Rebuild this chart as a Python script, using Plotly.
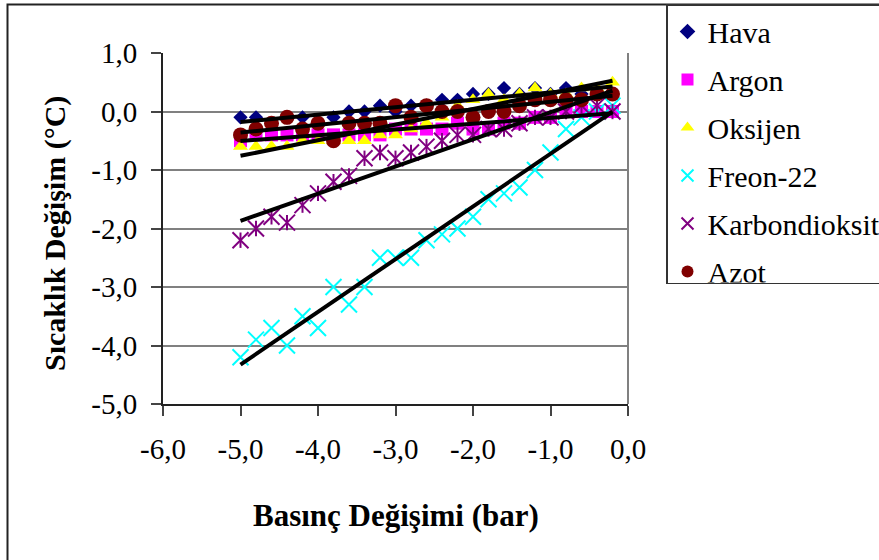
import numpy as np
import plotly.graph_objects as go

# ---- data ----
pressure = [-5.0, -4.8, -4.6, -4.4, -4.2, -4.0, -3.8, -3.6, -3.4, -3.2, -3.0, -2.8, -2.6,
            -2.4, -2.2, -2.0, -1.8, -1.6, -1.4, -1.2, -1.0, -0.8, -0.6, -0.4, -0.2]

hava = [-0.1, -0.1, -0.2, -0.1, -0.1, -0.2, -0.1, 0.0, 0.0, 0.1, 0.0, 0.1, 0.1,
        0.2, 0.2, 0.3, 0.3, 0.4, 0.3, 0.4, 0.3, 0.4, 0.3, 0.3, 0.3]
argon = [-0.5, -0.4, -0.4, -0.4, -0.4, -0.4, -0.4, -0.4, -0.4, -0.4, -0.3, -0.3, -0.3,
         -0.3, -0.2, -0.3, -0.3, -0.2, -0.2, -0.1, -0.1, 0.0, 0.0, 0.0, 0.0]
oksijen = [-0.6, -0.6, -0.6, -0.6, -0.5, -0.5, -0.5, -0.5, -0.5, -0.4, -0.4, -0.3, -0.2,
           -0.1, 0.1, 0.2, 0.3, 0.2, 0.3, 0.4, 0.3, 0.3, 0.4, 0.4, 0.5]
freon = [-4.2, -3.9, -3.7, -4.0, -3.5, -3.7, -3.0, -3.3, -3.0, -2.5, -2.5, -2.5, -2.2,
         -2.1, -2.0, -1.8, -1.5, -1.4, -1.3, -1.0, -0.7, -0.3, -0.1, 0.0, 0.1]
karbondioksit = [-2.2, -2.0, -1.8, -1.9, -1.6, -1.4, -1.2, -1.1, -0.8, -0.7, -0.8, -0.7, -0.6,
                 -0.5, -0.4, -0.4, -0.3, -0.3, -0.2, -0.1, -0.1, 0.0, 0.1, 0.1, 0.0]
azot = [-0.4, -0.3, -0.2, -0.1, -0.3, -0.2, -0.5, -0.2, -0.2, -0.2, 0.1, -0.1, 0.1,
        0.0, 0.0, -0.1, 0.0, 0.0, 0.1, 0.2, 0.2, 0.2, 0.2, 0.3, 0.3]

series_names = ["Hava", "Argon", "Oksijen", "Freon-22", "Karbondioksit", "Azot"]
series_values = [hava, argon, oksijen, freon, karbondioksit, azot]

x_tickvals = [-6, -5, -4, -3, -2, -1, 0]
x_ticktext = ["-6,0", "-5,0", "-4,0", "-3,0", "-2,0", "-1,0", "0,0"]
y_tickvals = [1, 0, -1, -2, -3, -4, -5]
y_ticktext = ["1,0", "0,0", "-1,0", "-2,0", "-3,0", "-4,0", "-5,0"]

# ---- styles ----
FONT = "Liberation Serif"
styles = {
    "Hava": dict(symbol="diamond", color="#000080", size=11),
    "Argon": dict(symbol="square", color="#FF00FF", size=13),
    "Oksijen": dict(symbol="triangle-up", color="#FFFF00", size=13),
    "Freon-22": dict(symbol="x-thin-open", color="#00FFFF", size=16),
    "Karbondioksit": dict(symbol="x-thin-open", color="#800080", size=16),
    "Azot": dict(symbol="circle", color="#800000", size=15),
}

fig = go.Figure()
for name, vals in zip(series_names, series_values):
    st = styles[name]
    marker = dict(symbol=st["symbol"], color=st["color"], size=st["size"])
    if st["symbol"].endswith("open"):
        marker["line"] = dict(color=st["color"], width=2)
    else:
        marker["line"] = dict(width=0)
    fig.add_trace(go.Scatter(x=pressure, y=vals, mode="markers", name=name,
                             legendgroup=name, marker=marker))
    if name == "Karbondioksit":
        fig.add_trace(go.Scatter(x=pressure, y=vals, mode="markers", showlegend=False,
                                 legendgroup=name, hoverinfo="skip",
                                 marker=dict(symbol="line-ns-open", size=11,
                                             color=st["color"],
                                             line=dict(color=st["color"], width=2))))

# linear trendlines, fitted from the data
xs = np.array(pressure)
for name, vals in zip(series_names, series_values):
    k, b = np.polyfit(xs, np.array(vals), 1)
    xe = np.array([xs.min(), xs.max()])
    fig.add_trace(go.Scatter(x=xe, y=k * xe + b, mode="lines", showlegend=False,
                             hoverinfo="skip", line=dict(color="black", width=4)))

L, R, T, B = 163, 251, 53, 156
W, H = 879, 560
pw, ph = W - L - R, H - T - B

def px_x(p):
    return (p - L) / pw

def px_y(p):
    return (H - B - p) / ph

fig.update_layout(
    width=W, height=H,
    margin=dict(l=L, r=R, t=T, b=B, autoexpand=False),
    paper_bgcolor="white", plot_bgcolor="white",
    font=dict(family=FONT, color="black", size=29),
    showlegend=True,
    legend=dict(
        x=px_x(666), y=px_y(4), xanchor="left", yanchor="top",
        bordercolor="#333333", borderwidth=1.5, bgcolor="white",
        font=dict(family=FONT, size=30, color="black"),
        traceorder="grouped", tracegroupgap=6,
        itemsizing="constant",
    ),
    xaxis=dict(
        range=[-6, 0], tickvals=x_tickvals, ticktext=x_ticktext,
        ticks="outside", ticklen=10, tickwidth=1.5, tickcolor="#444444",
        showline=True, linecolor="#222222", linewidth=2,
        showgrid=False, zeroline=False,
        tickfont=dict(family=FONT, size=29, color="black"),
        ticklabelstandoff=8,
    ),
    yaxis=dict(
        range=[-5, 1], tickvals=y_tickvals, ticktext=y_ticktext,
        ticks="outside", ticklen=10, tickwidth=1.5, tickcolor="#444444",
        showline=True, linecolor="#222222", linewidth=2,
        showgrid=True, gridcolor="#808080", gridwidth=1.5, zeroline=False,
        tickfont=dict(family=FONT, size=29, color="black"),
        ticklabelstandoff=8,
    ),
    shapes=[
        dict(type="line", xref="paper", yref="paper", x0=1, x1=1, y0=0, y1=1,
             line=dict(color="#808080", width=2), layer="below"),
        dict(type="rect", xref="paper", yref="paper",
             x0=px_x(7.5), x1=px_x(2000), y0=px_y(2000), y1=px_y(4.5),
             line=dict(color="#222222", width=2), fillcolor="rgba(0,0,0,0)"),
    ],
    annotations=[
        dict(text="<b>Basınç Değişimi (bar)</b>", xref="paper", yref="paper",
             x=0.5, y=px_y(515), xanchor="center", yanchor="middle",
             showarrow=False, font=dict(family=FONT, size=31, color="black")),
        dict(text="<b>Sıcaklık Değişim (°C)</b>", xref="paper", yref="paper",
             x=px_x(55), y=px_y(234), xanchor="center", yanchor="middle",
             textangle=-90, showarrow=False,
             font=dict(family=FONT, size=30, color="black")),
    ],
)

fig.write_html("out.html")
